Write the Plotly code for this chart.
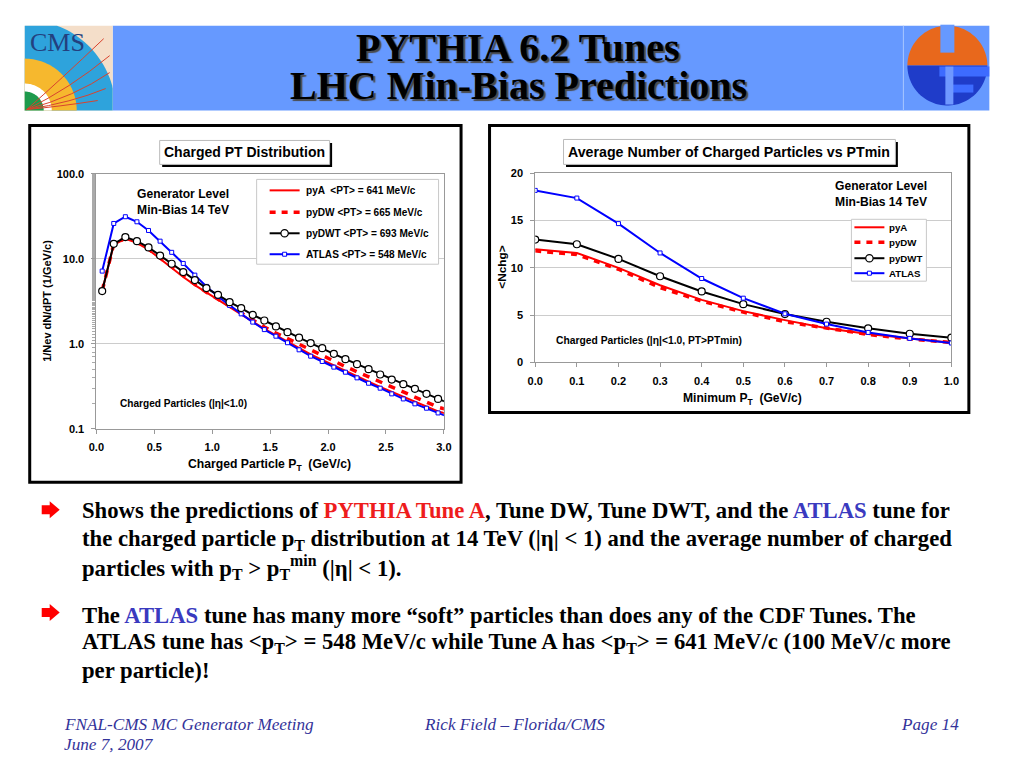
import numpy as np
import plotly.graph_objects as go

# ---------------- data ----------------
pt_centers = [0.05, 0.15, 0.25, 0.35, 0.45, 0.55, 0.65, 0.75, 0.85, 0.95,
              1.05, 1.15, 1.25, 1.35, 1.45, 1.55, 1.65, 1.75, 1.85, 1.95,
              2.05, 2.15, 2.25, 2.35, 2.45, 2.55, 2.65, 2.75, 2.85, 2.95, 3.05]
dist_pyA = [4.2, 14.6, 17.2, 15.4, 12.8, 10.0, 7.9, 6.1, 4.9, 4.0,
            3.3, 2.7, 2.2, 1.82, 1.5, 1.26, 1.06, 0.89, 0.75, 0.645,
            0.555, 0.48, 0.415, 0.36, 0.312, 0.272, 0.237, 0.207, 0.181, 0.16, 0.148]
dist_pyDW = [4.2, 14.9, 17.4, 15.6, 13.0, 10.2, 8.1, 6.3, 5.0, 4.05,
             3.35, 2.76, 2.27, 1.9, 1.58, 1.34, 1.15, 0.98, 0.84, 0.72,
             0.62, 0.54, 0.47, 0.41, 0.355, 0.31, 0.27, 0.236, 0.205, 0.18, 0.166]
dist_pyDWT = [4.17, 15.0, 18.0, 16.1, 13.6, 10.9, 8.73, 6.97, 5.61, 4.52,
              3.77, 3.09, 2.63, 2.19, 1.88, 1.6, 1.37, 1.18, 1.02, 0.889,
              0.763, 0.66, 0.577, 0.503, 0.436, 0.38, 0.335, 0.296, 0.258, 0.225, 0.198]
dist_ATLAS = [7.16, 26.0, 31.2, 27.2, 21.5, 16.1, 11.9, 8.81, 6.42, 4.73,
              3.6, 2.83, 2.25, 1.8, 1.47, 1.23, 1.03, 0.85, 0.716, 0.62,
              0.532, 0.464, 0.398, 0.344, 0.301, 0.258, 0.225, 0.197, 0.175, 0.154, 0.136]

ptmin = [0.0, 0.1, 0.2, 0.3, 0.4, 0.5, 0.6, 0.7, 0.8, 0.9, 1.0]
nchg_pyA = [11.95, 11.56, 9.98, 8.15, 6.6, 5.41, 4.46, 3.59, 2.99, 2.5, 2.07]
nchg_pyDW = [11.78, 11.39, 9.84, 7.9, 6.47, 5.3, 4.29, 3.59, 2.95, 2.46, 2.1]
nchg_pyDWT = [12.97, 12.48, 10.93, 9.1, 7.49, 6.15, 5.1, 4.29, 3.59, 3.02, 2.6]
nchg_ATLAS = [18.17, 17.36, 14.66, 11.56, 8.86, 6.78, 5.13, 4.04, 3.16, 2.53, 2.04]

legend1_labels = ["pyA  &lt;PT&gt; = 641 MeV/c", "pyDW &lt;PT&gt; = 665 MeV/c",
                  "pyDWT &lt;PT&gt; = 693 MeV/c", "ATLAS &lt;PT&gt; = 548 MeV/c"]
legend2_labels = ["pyA", "pyDW", "pyDWT", "ATLAS"]
logy_tickvals = [0.1, 1, 10, 100]
logy_ticktext = ["0.1", "1.0", "10.0", "100.0"]

# ---------------- helpers ----------------
# figure is 1008x752 placed at the page's default 8px body margin;
# positions below are given in target-picture pixels and calibrated to the page.
OFF = 8
W, H = 1008, 752
CAL_AX, CAL_BX = 0.9845, 8.4
CAL_AY, CAL_BY = 0.986, 5.4


def fx(x):
    page = (x - CAL_BX) / CAL_AX
    return (page - OFF) / W


def fy(y):
    page = (y - CAL_BY) / CAL_AY
    return 1 - (page - OFF) / H


def P(x, y):
    return f"{fx(x):.5f},{fy(y):.5f}"


SANS = "Liberation Sans, Arial, sans-serif"
SERIF = "Liberation Serif, Times New Roman, serif"
RED = "#FF0000"
BLUE = "#0000FF"

fig = go.Figure()

# ---------------- chart 1 traces ----------------
fig.add_trace(go.Scatter(x=pt_centers, y=dist_pyA, mode="lines", name="pyA",
                         line=dict(color=RED, width=2), xaxis="x", yaxis="y"))
fig.add_trace(go.Scatter(x=pt_centers, y=dist_pyDW, mode="lines", name="pyDW",
                         line=dict(color=RED, width=3.5, dash="7px,7px"), xaxis="x", yaxis="y"))
fig.add_trace(go.Scatter(x=pt_centers, y=dist_ATLAS, mode="lines+markers", name="ATLAS",
                         line=dict(color=BLUE, width=2),
                         marker=dict(symbol="square", size=4, color="white",
                                     line=dict(color=BLUE, width=1)),
                         xaxis="x", yaxis="y"))
fig.add_trace(go.Scatter(x=pt_centers, y=dist_pyDWT, mode="lines+markers", name="pyDWT",
                         line=dict(color="black", width=2),
                         marker=dict(symbol="circle", size=7, color="white",
                                     line=dict(color="black", width=1.2)),
                         xaxis="x", yaxis="y"))

# ---------------- chart 2 traces ----------------
fig.add_trace(go.Scatter(x=ptmin, y=nchg_pyA, mode="lines", name="pyA",
                         line=dict(color=RED, width=2), xaxis="x2", yaxis="y2"))
fig.add_trace(go.Scatter(x=ptmin, y=nchg_pyDW, mode="lines", name="pyDW",
                         line=dict(color=RED, width=3.5, dash="6px,6px"), xaxis="x2", yaxis="y2"))
fig.add_trace(go.Scatter(x=ptmin, y=nchg_pyDWT, mode="lines+markers", name="pyDWT",
                         line=dict(color="black", width=2),
                         marker=dict(symbol="circle", size=7, color="white",
                                     line=dict(color="black", width=1.2)),
                         xaxis="x2", yaxis="y2"))
fig.add_trace(go.Scatter(x=ptmin, y=nchg_ATLAS, mode="lines+markers", name="ATLAS",
                         line=dict(color=BLUE, width=2),
                         marker=dict(symbol="square", size=4, color="white",
                                     line=dict(color=BLUE, width=1)),
                         xaxis="x2", yaxis="y2"))

tickfont = dict(family=SANS, size=11, color="black", weight="bold")
axis_common = dict(showline=True, linecolor="#999999", linewidth=1, mirror=True,
                   ticks="outside", ticklen=4, tickcolor="#999999",
                   tickfont=tickfont, zeroline=False)

# ---------------- shapes ----------------
shapes = []


def rect(x0, x1, y0, y1, fill=None, line=None, layer="above"):
    d = dict(type="rect", xref="paper", yref="paper", x0=fx(x0), x1=fx(x1),
             y0=fy(y1), y1=fy(y0), line=line or dict(width=0), layer=layer)
    if fill:
        d["fillcolor"] = fill
    shapes.append(d)


# header bar
rect(113, 990, 25, 110, fill="#6699FF", layer="below")
shapes.append(dict(type="line", xref="paper", yref="paper", x0=fx(904), x1=fx(904),
                   y0=fy(110), y1=fy(25), line=dict(color="#A9C6FF", width=1), layer="below"))

# CMS logo
LX0, LX1, LY0, LY1 = 25, 113, 25, 110
rect(LX0, LX1, LY0, LY1, fill="#F4DEC9", layer="below")


def quarter_disc(r, color):
    th = np.linspace(0, np.pi / 2, 40)
    xs = np.clip(LX0 + r * np.cos(th), LX0, LX1)
    ys = np.clip(LY1 - r * np.sin(th), LY0, LY1)
    path = "M " + P(LX0, LY1) + " " + " ".join("L " + P(a, b) for a, b in zip(xs, ys)) + " Z"
    return dict(type="path", xref="paper", yref="paper", path=path, fillcolor=color,
                line=dict(width=0), layer="below")


shapes.append(quarter_disc(91, "#2EA3DC"))
shapes.append(quarter_disc(52, "#F6B82E"))
shapes.append(quarter_disc(27, "#FFFFFF"))
shapes.append(quarter_disc(19, "#1E9A4C"))
for (cx, cy, ex, ey) in [(60, 80, 104, 38), (70, 88, 110, 55), (75, 96, 110, 72),
                         (72, 102, 106, 88), (60, 106, 98, 100)]:
    shapes.append(dict(type="path", xref="paper", yref="paper",
                       path=f"M {P(27, 109)} Q {P(cx, cy)} {P(ex, ey)}",
                       line=dict(color="#D8432E", width=1), layer="below"))

# UF logo
UCX, UCY, UR = 948, 65, 40
th = np.linspace(0, np.pi, 50)
up = "M " + " L ".join(P(UCX + UR * np.cos(t), UCY - UR * np.sin(t)) for t in th) + " Z"
dn = "M " + " L ".join(P(UCX + UR * np.cos(t), UCY + UR * np.sin(t)) for t in th) + " Z"
shapes.append(dict(type="path", xref="paper", yref="paper", path=up, fillcolor="#E8681C",
                   line=dict(width=0), layer="below"))
shapes.append(dict(type="path", xref="paper", yref="paper", path=dn, fillcolor="#1F3CC9",
                   line=dict(width=0), layer="below"))
rect(941, 955, 24, 52, fill="#6699FF", layer="below")
rect(940, 990, 66, 76, fill="#3D6BFF", layer="below")
rect(950, 974, 84, 92, fill="#3D6BFF", layer="below")
rect(946, 954, 66, 104, fill="#6F98FF", layer="below")

# chart frames
rect(30, 461.5, 125, 482.5, line=dict(color="black", width=3))
rect(490, 969.5, 125, 412.5, line=dict(color="black", width=3))


def title_box(x0, x1, y0, y1):
    rect(x0 + 2.5, x1 + 2.5, y0 + 2.5, y1 + 2.5, fill="black")
    rect(x0, x1, y0, y1, fill="white", line=dict(color="#BBBBBB", width=1))


title_box(160, 330, 140, 164)
title_box(564, 896, 139, 164)

# legend frames
rect(257, 439, 179, 264, fill="white", line=dict(color="#C8C8C8", width=1))
rect(852, 927, 219, 281, fill="white", line=dict(color="#C8C8C8", width=1))

# bullet arrows (block arrows)
for yc in [510, 613]:
    path = ("M " + P(42, yc - 4.5) + " L " + P(50, yc - 4.5) + " L " + P(50, yc - 8.5)
            + " L " + P(60, yc) + " L " + P(50, yc + 8.5) + " L " + P(50, yc + 4.5)
            + " L " + P(42, yc + 4.5) + " Z")
    shapes.append(dict(type="path", xref="paper", yref="paper", path=path,
                       fillcolor="#FF0000", line=dict(width=0)))

annotations = []


def legend_entries(x0, x1, ys, labels, textx, fsize):
    styles = [("solid", RED, 2, None), ("dash", RED, 3.5, None),
              ("solid", "black", 2, "circle"), ("solid", BLUE, 2, "square")]
    for yy, lab, (dsh, col, wd, mk) in zip(ys, labels, styles):
        shapes.append(dict(type="line", xref="paper", yref="paper", x0=fx(x0), x1=fx(x1),
                           y0=fy(yy), y1=fy(yy),
                           line=dict(color=col, width=wd, dash="6px,6px" if dsh == "dash" else "solid")))
        xm = (x0 + x1) / 2
        if mk == "circle":
            shapes.append(dict(type="circle", xref="paper", yref="paper", x0=fx(xm - 3.7),
                               x1=fx(xm + 3.7), y0=fy(yy + 3.7), y1=fy(yy - 3.7),
                               fillcolor="white", line=dict(color="black", width=1.2)))
        elif mk == "square":
            rect(xm - 2, xm + 2, yy - 2, yy + 2, fill="white", line=dict(color=BLUE, width=1))
        annotations.append(dict(xref="paper", yref="paper", x=fx(textx), y=fy(yy),
                                xanchor="left", yanchor="middle", showarrow=False,
                                text=f"<b>{lab}</b>", font=dict(family=SANS, size=fsize, color="black")))


legend_entries(270, 300, [190, 212, 233, 254], legend1_labels, 304, 10.1)
legend_entries(855, 885, [227, 242, 258, 273], legend2_labels, 888, 9.7)


def ann(x, y, text, size, xanchor="center", family=SANS, color="black", angle=0, shadow=None):
    font = dict(family=family, size=size, color=color)
    if shadow:
        font["shadow"] = shadow
    annotations.append(dict(xref="paper", yref="paper", x=fx(x), y=fy(y), text=text,
                            xanchor=xanchor, yanchor="middle", showarrow=False, textangle=angle,
                            font=font))


# header title
ann(518, 47, "<b>PYTHIA 6.2 Tunes</b>", 40, family=SERIF, shadow="2px 2px 1px #4a4a4a")
ann(519, 85, "<b>LHC Min-Bias Predictions</b>", 40, family=SERIF, shadow="2px 2px 1px #4a4a4a")

ann(58, 42, "CMS", 26, family=SERIF, color="#23407F")

# chart titles
ann(245, 152, "<b>Charged PT Distribution</b>", 14)
ann(730, 151.5, "<b>Average Number of Charged Particles vs PTmin</b>", 14.2)

# chart annotations
ann(183, 202, "<b>Generator Level<br>Min-Bias 14 TeV</b>", 12.1)
ann(930, 194, "<b>Generator Level<br>Min-Bias 14 TeV</b>", 12.1, xanchor="right")
ann(118, 404, "<b>Charged Particles (|η|&lt;1.0)</b>", 10.1, xanchor="left")
ann(554, 340, "<b>Charged Particles (|η|&lt;1.0, PT&gt;PTmin)</b>", 10.3, xanchor="left")

# axis titles
ann(270, 465, "<b>Charged Particle P<sub>T</sub>\u00a0\u00a0(GeV/c)</b>", 12.2)
ann(47, 301, "<b>1/Nev dN/dPT (1/GeV/c)</b>", 11, angle=-90)
ann(743, 399, "<b>Minimum P<sub>T</sub>\u00a0\u00a0(GeV/c)</b>", 12.1)
ann(503, 267, "<b>&lt;Nchg&gt;</b>", 11.8, angle=-90)

# bullet text
BUL = 22.7
RC = "#EE1C1C"
BC = "#3A3ABF"
lines1 = [
    f"<b>Shows the predictions of <span style='color:{RC}'>PYTHIA Tune A</span>, Tune DW, Tune DWT, and the <span style='color:{BC}'>ATLAS</span> tune for</b>",
    "<b>the charged particle p<sub>T</sub> distribution at 14 TeV (|η| &lt; 1) and the average number of charged</b>",
    "<b>particles with p<sub>T</sub> &gt; p<sub>T</sub><sup>min</sup> (|η| &lt; 1).</b>",
]
lines2 = [
    f"<b>The <span style='color:{BC}'>ATLAS</span> tune has many more “soft” particles than does any of the CDF Tunes. The</b>",
    "<b>ATLAS tune has &lt;p<sub>T</sub>&gt; = 548 MeV/c while Tune A has &lt;p<sub>T</sub>&gt; = 641 MeV/c (100 MeV/c more</b>",
    "<b>per particle)!</b>",
]
for t, yy in zip(lines1, [511, 540, 568]):
    ann(80, yy, t, BUL, xanchor="left", family=SERIF)
for t, yy in zip(lines2, [616, 643.5, 671]):
    ann(80, yy, t, BUL, xanchor="left", family=SERIF)

# footer
FC = "#33339A"
FS = 17.2
ann(62, 725, "<i>FNAL-CMS MC Generator Meeting</i>", FS, xanchor="left", family=SERIF, color=FC)
ann(62, 745, "<i>June 7, 2007</i>", FS, xanchor="left", family=SERIF, color=FC)
ann(422, 725, "<i>Rick Field – Florida/CMS</i>", FS, xanchor="left", family=SERIF, color=FC)
ann(962, 725, "<i>Page 14</i>", FS, xanchor="right", family=SERIF, color=FC)

fig.update_layout(
    width=W, height=H, margin=dict(l=0, r=0, t=0, b=0),
    paper_bgcolor="white", plot_bgcolor="white", showlegend=False,
    xaxis=dict(domain=[fx(96.7), fx(444.3)], range=[0, 3], tick0=0, dtick=0.5,
               tickformat=".1f", anchor="y", showgrid=False, ticklabelstandoff=4, **axis_common),
    yaxis=dict(domain=[fy(429), fy(173.3)], type="log", range=[-1, 2],
               tickvals=logy_tickvals, ticktext=logy_ticktext, anchor="x",
               showgrid=True, gridcolor="#CCCCCC", ticklabelstandoff=5,
               minor=dict(ticks="outside", ticklen=3, tickcolor="#AAAAAA", showgrid=False),
               **axis_common),
    xaxis2=dict(domain=[fx(535.7), fx(952)], range=[0, 1], tick0=0, dtick=0.1,
                tickformat=".1f", anchor="y2", showgrid=False, ticklabelstandoff=4, **axis_common),
    yaxis2=dict(domain=[fy(362.3), fy(172.7)], range=[0, 20], dtick=5, anchor="x2",
                showgrid=True, gridcolor="#CCCCCC", ticklabelstandoff=5, **axis_common),
    shapes=shapes, annotations=annotations,
)

fig.write_html("out.html", config={"displayModeBar": False})
